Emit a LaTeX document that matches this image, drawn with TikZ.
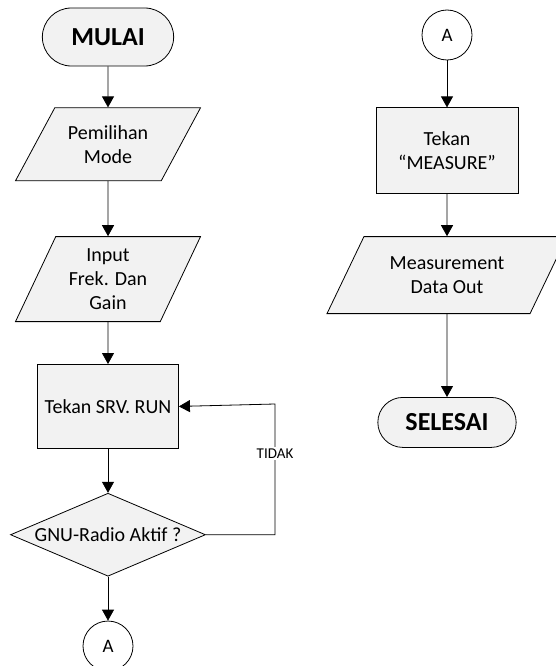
\documentclass[tikz,border=0pt]{standalone}
\usepackage{fontspec}
\setmainfont{Carlito}
\usepackage{xcolor}
\usetikzlibrary{shapes.geometric, shapes.misc, arrows.meta, positioning}

\definecolor{boxfill}{HTML}{F2F2F2}

\begin{document}
\begin{tikzpicture}[
    x=1pt, y=1pt,
    every node/.style={font=\fontsize{20}{24}\selectfont},
    term/.style={rounded rectangle, draw, fill=boxfill, line width=0.8pt,
                 font=\fontsize{26}{30}\selectfont\bfseries},
    proc/.style={rectangle, draw, fill=boxfill, line width=0.8pt,
                 minimum width=141pt, align=center},
    io/.style={trapezium, draw, fill=boxfill, line width=0.8pt, align=center,
               inner xsep=0pt, trapezium stretches body=true},
    decide/.style={diamond, draw, fill=boxfill, line width=0.8pt, inner sep=0pt,
                   shape aspect=2.35, minimum width=195pt, minimum height=83pt},
    conn/.style={circle, draw, line width=0.8pt, minimum size=50pt, inner sep=0pt,
                 font=\fontsize{19}{22}\selectfont},
    arr/.style={-{Triangle[length=11pt, width=12pt]}, line width=0.8pt}
]
\useasboundingbox (0,0) rectangle (555,-666);

% kolom kiri
\node[term, minimum width=138pt, minimum height=58pt] (mulai) at (108,-37) {MULAI};
\node[io, below=41pt of mulai, trapezium left angle=60, trapezium right angle=120,
      inner ysep=15pt, minimum width=185pt, minimum height=73pt] (mode) {Pemilihan\\ Mode};
\node[io, below=55pt of mode, trapezium left angle=63, trapezium right angle=117,
      inner ysep=9pt, minimum width=185pt, minimum height=85pt] (input) {Input\\ Frek. Dan\\ Gain};
\node[proc, below=42pt of input, minimum height=84pt] (srv) {Tekan SRV. RUN};
\node[decide, below=44pt of srv] (gnu) {GNU-Radio Aktif ?};
\node[conn, below=44pt of gnu] (ka) {A};
\coordinate (balik) at (275,-404);

\draw[arr] (mulai) -- (mode);
\draw[arr] (mode) -- (input);
\draw[arr] (input) -- (srv);
\draw[arr] (srv) -- (gnu);
\draw[arr] (gnu) -- (ka);
\draw[arr] (gnu.east) -| (balik)
    node[pos=0.81, fill=white, inner sep=2pt, font=\fontsize{15}{18}\selectfont] {TIDAK}
    -- (srv.east);

% kolom kanan
\node[conn] (kb) at (447,-35) {A};
\node[proc, below=47pt of kb, minimum width=142pt, minimum height=86pt] (measure) {Tekan\\ ``MEASURE''};
\node[io, below=42pt of measure, trapezium left angle=62.5, trapezium right angle=117.5,
      inner ysep=17pt, minimum width=240pt, minimum height=77pt] (dataout) {Measurement\\ Data Out};
\node[term, below=83pt of dataout, minimum width=145pt, minimum height=50pt] (selesai) {SELESAI};

\draw[arr] (kb) -- (measure);
\draw[arr] (measure) -- (dataout);
\draw[arr] (dataout) -- (selesai);
\end{tikzpicture}
\end{document}
